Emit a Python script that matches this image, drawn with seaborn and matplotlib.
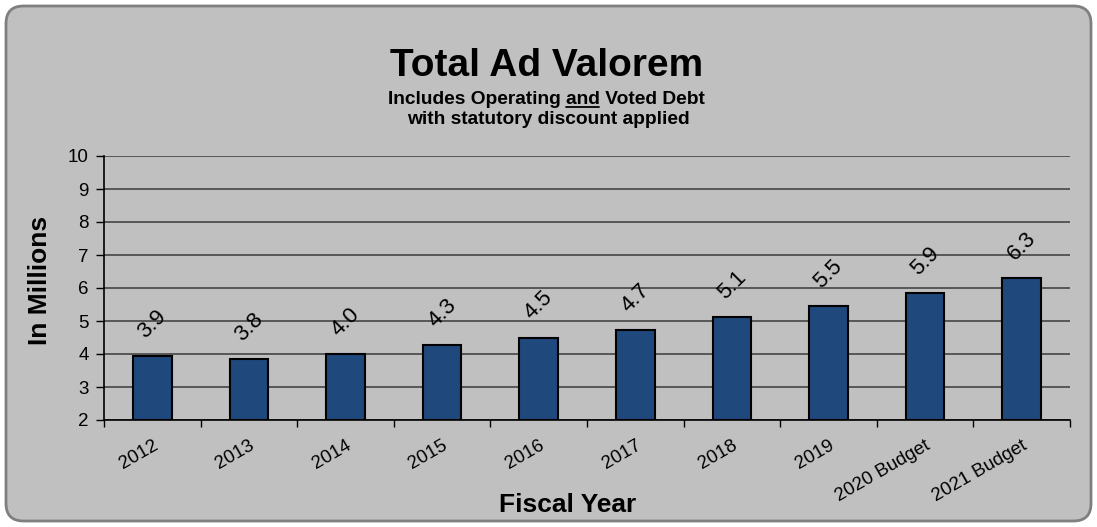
import matplotlib
matplotlib.use("Agg")
import matplotlib.pyplot as plt
import seaborn as sns
import pandas as pd
from matplotlib.patches import FancyBboxPatch
from matplotlib.lines import Line2D

categories = ["2012", "2013", "2014", "2015", "2016", "2017", "2018", "2019",
              "2020 Budget", "2021 Budget"]
values = [3.93, 3.85, 4.00, 4.27, 4.50, 4.72, 5.13, 5.46, 5.85, 6.29]
labels = ["3.9", "3.8", "4.0", "4.3", "4.5", "4.7", "5.1", "5.5", "5.9", "6.3"]
yticks = [2, 3, 4, 5, 6, 7, 8, 9, 10]

sns.set_theme(style="white")
plt.rcParams["font.family"] = ["Liberation Sans", "DejaVu Sans"]
plt.rcParams["text.color"] = "black"
plt.rcParams["xtick.color"] = "black"
plt.rcParams["ytick.color"] = "black"
plt.rcParams["axes.labelcolor"] = "black"

BG = "#C0C0C0"
fig = plt.figure(figsize=(10.97, 5.27), dpi=100)
fig.patch.set_facecolor("white")
frame = FancyBboxPatch((6 / 1097, 6 / 527), 1085 / 1097, 515 / 527,
                       boxstyle="round,pad=0,rounding_size=0.016",
                       transform=fig.transFigure, facecolor=BG,
                       edgecolor="#7F7F7F", linewidth=2, zorder=-10,
                       mutation_aspect=1097 / 527)
fig.patches.append(frame)

ax = fig.add_axes([104 / 1097, 107 / 527, 966 / 1097, 264 / 527])
ax.set_facecolor("none")

df = pd.DataFrame({"cat": categories, "val": values})
sns.barplot(data=df, x="cat", y="val", ax=ax, color="#1F497D", width=0.40,
            edgecolor="black", linewidth=1.5, saturation=1, zorder=3)
for p in ax.patches:
    p.set_y(2)
    p.set_height(p.get_height() - 2)

ax.set_ylim(2, 10)
ax.set_xlim(-0.5, len(categories) - 0.5)
ax.set_yticks(yticks)
ax.set_yticklabels([str(t) for t in yticks], fontsize=13.5, color="black")
ax.yaxis.grid(True, color="#3A3A3A", linewidth=1.1, zorder=0)
ax.set_axisbelow(True)

ax.set_xticks([i - 0.5 for i in range(len(categories) + 1)])
ax.set_xticklabels([])
ax.set_xticks(range(len(categories)), minor=True)
ax.set_xticklabels(categories, minor=True, rotation=30, ha="right",
                   rotation_mode="anchor", fontsize=13.5)
ax.tick_params(axis="x", which="minor", length=0, pad=12)
ax.tick_params(axis="x", which="major", length=5, width=1, color="black",
               direction="out", bottom=True)
ax.tick_params(axis="y", length=6, width=1, color="black", direction="out",
               left=True, pad=5)

for s in ["top", "right"]:
    ax.spines[s].set_visible(False)
for s in ["left", "bottom"]:
    ax.spines[s].set_color("black")
    ax.spines[s].set_linewidth(1.2)

for i, (v, lab) in enumerate(zip(values, labels)):
    ax.annotate(lab, (i, v), xytext=(0, 23), textcoords="offset points",
                ha="center", va="center", rotation=45, fontsize=16)

ax.set_xlabel("Fiscal Year", fontsize=19, fontweight="bold")
ax.set_ylabel("In Millions", fontsize=19, fontweight="bold")
ax.xaxis.set_label_coords(0.48, -0.275)
ax.yaxis.set_label_coords(-0.054, 0.53)

fig.text(547 / 1097, 1 - 66 / 527, "Total Ad Valorem", ha="center",
         va="center", fontsize=28, fontweight="bold")
line1 = "Includes Operating and Voted Debt"
SUB = 13.8
t1 = fig.text(546 / 1097, 1 - 100 / 527, line1, ha="center", va="center",
              fontsize=SUB, fontweight="bold")
fig.text(548 / 1097, 1 - 119 / 527, "with statutory discount applied",
         ha="center", va="center", fontsize=SUB, fontweight="bold")

# underline "and"
fig.canvas.draw()
r = fig.canvas.get_renderer()
bb = t1.get_window_extent(r)
pre = fig.text(0, 0, "Includes Operating ", fontsize=SUB, fontweight="bold")
word = fig.text(0, 0, "and", fontsize=SUB, fontweight="bold")
wpre = pre.get_window_extent(r).width
wword = word.get_window_extent(r).width
pre.remove()
word.remove()
x0 = bb.x0 + wpre
x1 = x0 + wword
yl = bb.y0 + 1.5
fig.add_artist(Line2D([x0 / fig.bbox.width, x1 / fig.bbox.width],
                      [yl / fig.bbox.height, yl / fig.bbox.height],
                      transform=fig.transFigure, color="black", linewidth=1.3))

fig.savefig("out.png", dpi=100, facecolor=fig.get_facecolor())
